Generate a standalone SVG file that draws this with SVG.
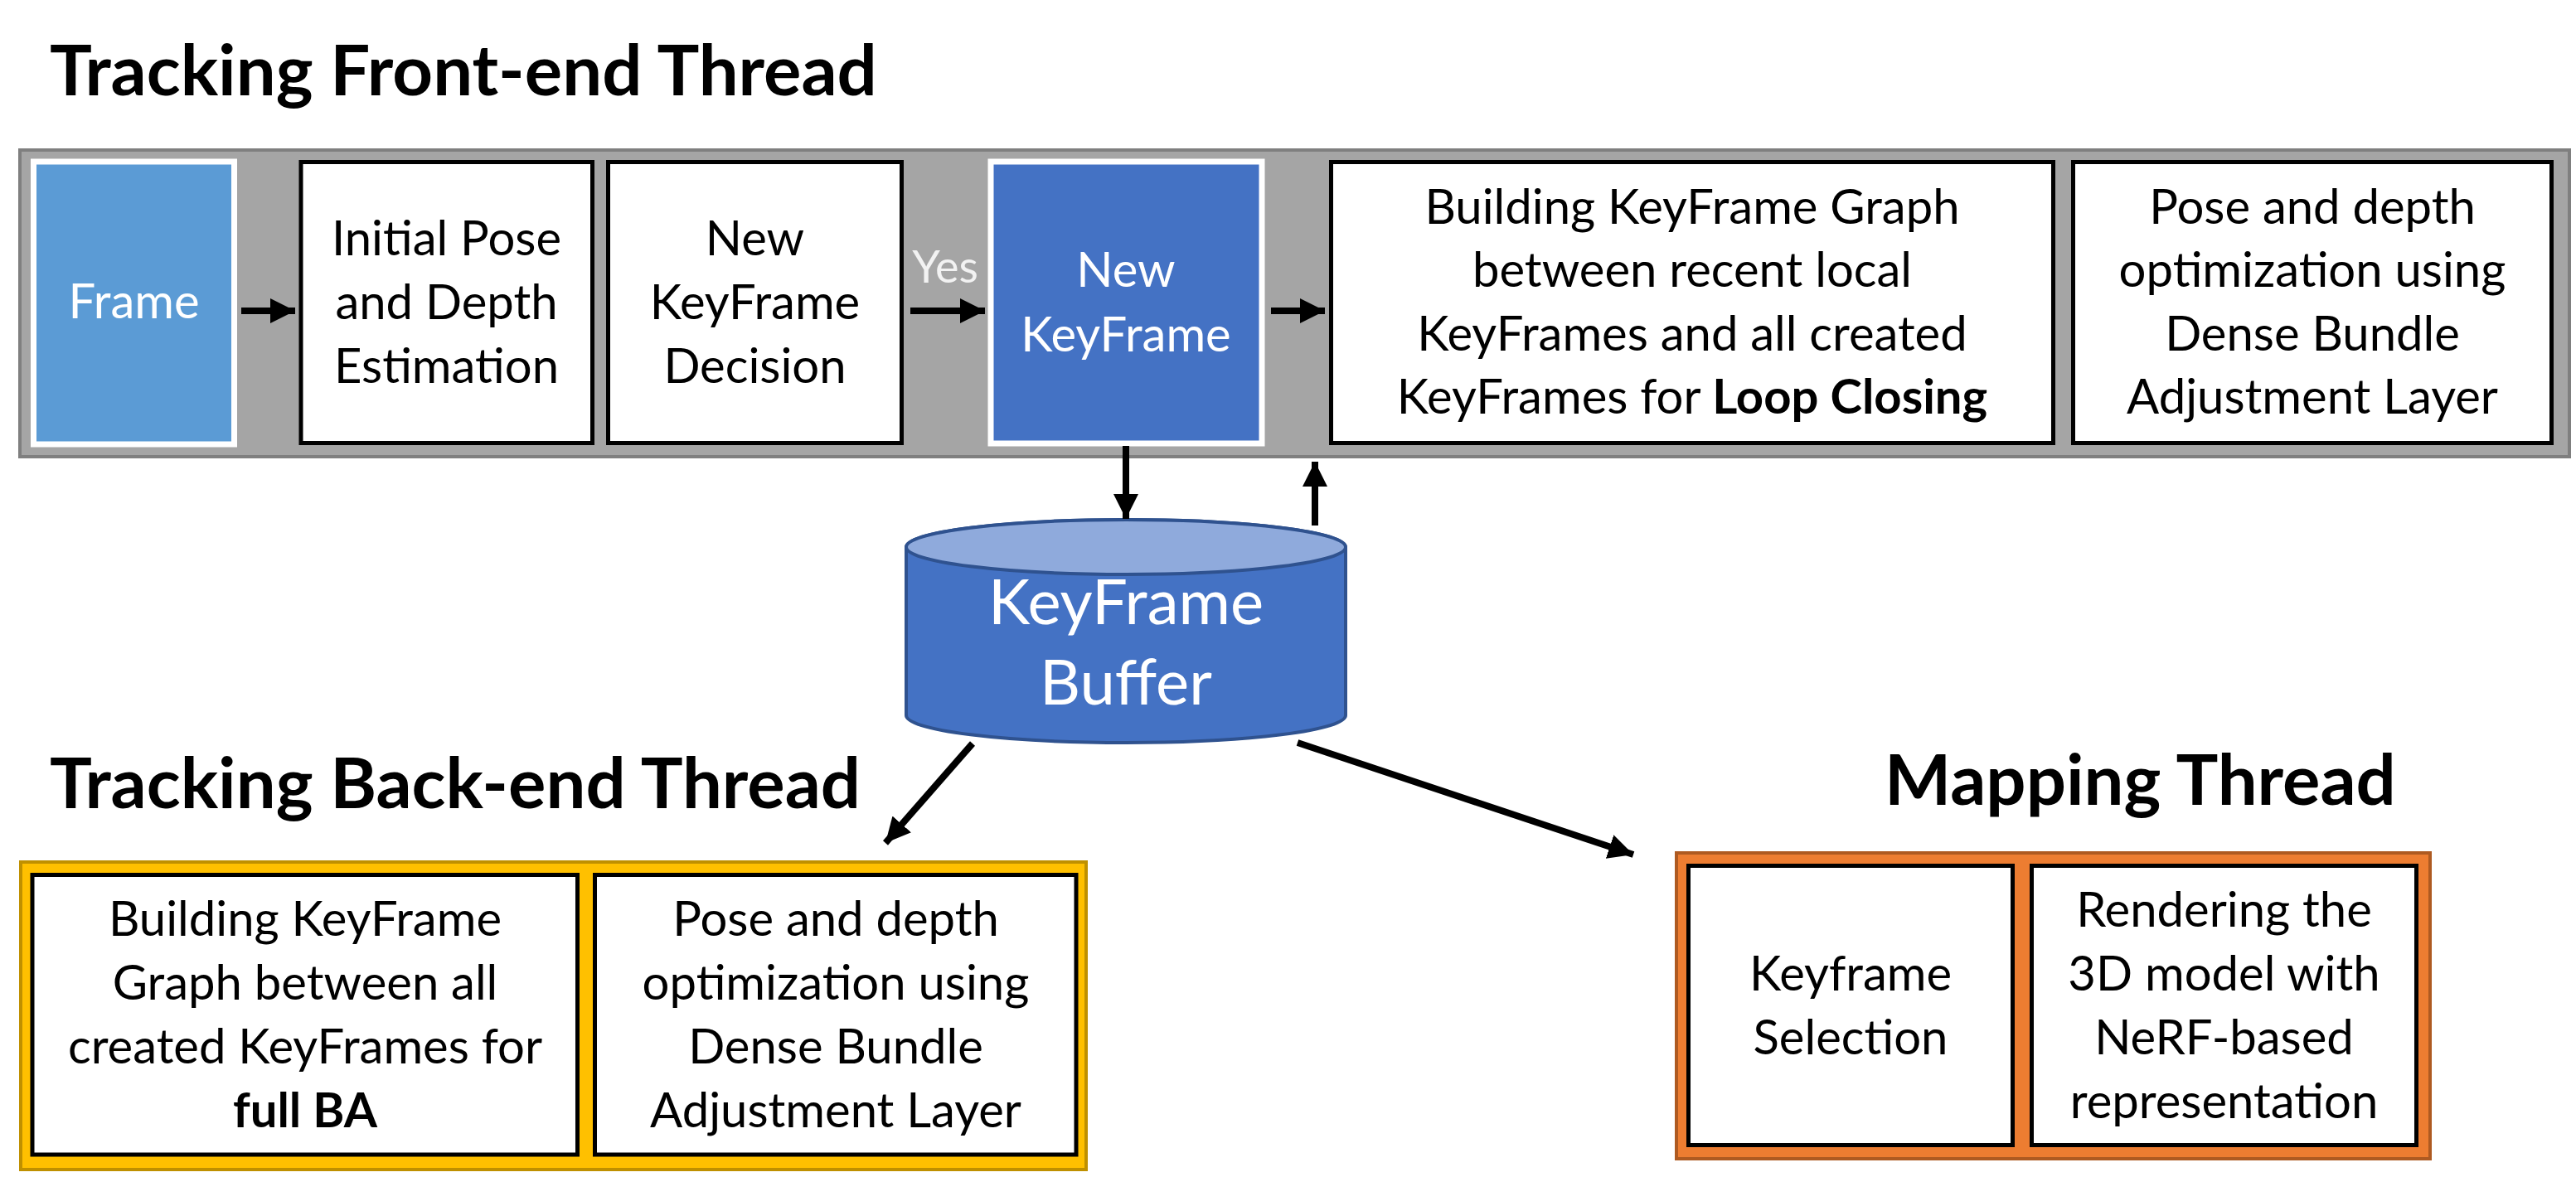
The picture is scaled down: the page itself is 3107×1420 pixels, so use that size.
<svg xmlns="http://www.w3.org/2000/svg" width="3107" height="1420" viewBox="0 0 3107 1420">
<style>
text{font-family:Lato,"Liberation Sans",sans-serif}
.title{font-weight:bold;font-size:85px;fill:#000}
.t{font-size:58px;fill:#000;text-anchor:middle}
.w{font-size:58px;fill:#fff;text-anchor:middle}
.cyl{font-size:76px;fill:#fff;text-anchor:middle}
.b{font-weight:bold}
.box{fill:#fff;stroke:#000;stroke-width:5}
.arrow{stroke:#000;stroke-width:8;fill:none;marker-end:url(#ah)}
</style>
<defs>
<marker id="ah" markerUnits="userSpaceOnUse" markerWidth="32" markerHeight="30" refX="30" refY="15" orient="auto" viewBox="0 0 32 30">
<path d="M0,0 L30,15 L0,30 Z" fill="#000"/>
</marker>
</defs>
<g id="titles">
<text class="title" x="60" y="115">Tracking Front-end Thread</text>
<text class="title" x="60" y="975">Tracking Back-end Thread</text>
<text class="title" x="2273" y="971">Mapping Thread</text>
</g>
<g id="frontend-container">
<rect x="24" y="181" width="3075" height="370" fill="#a5a5a5" stroke="#7f7f7f" stroke-width="4"/>
</g>
<g id="frame">
<rect x="40.5" y="195" width="242" height="341" fill="#5b9bd5" stroke="#fff" stroke-width="7"/>
<text class="w" x="161.5" y="384">Frame</text>
</g>
<g id="initial-pose">
<rect class="box" x="363" y="195.5" width="351.5" height="339"/>
<text class="t" x="538.5" y="308">Initial Pose</text>
<text class="t" x="538.5" y="385">and Depth</text>
<text class="t" x="538.5" y="462">Estimation</text>
</g>
<g id="keyframe-decision">
<rect class="box" x="733.5" y="195.5" width="354" height="339"/>
<text class="t" x="910.5" y="308">New</text>
<text class="t" x="910.5" y="385">KeyFrame</text>
<text class="t" x="910.5" y="462">Decision</text>
</g>
<g id="new-keyframe">
<rect x="1195" y="195" width="327" height="340" fill="#4472c4" stroke="#fff" stroke-width="7"/>
<text class="w" x="1358" y="346">New</text>
<text class="w" x="1358" y="424">KeyFrame</text>
</g>
<g id="building-graph">
<rect class="box" x="1605.5" y="195.5" width="871" height="339"/>
<text class="t" x="2041" y="270">Building KeyFrame Graph</text>
<text class="t" x="2041" y="346">between recent local</text>
<text class="t" x="2041" y="423">KeyFrames and all created</text>
<text class="t" x="2041" y="499">KeyFrames for <tspan class="b">Loop Closing</tspan></text>
</g>
<g id="pose-depth-front">
<rect class="box" x="2500.5" y="195.5" width="577" height="339"/>
<text class="t" x="2789" y="270">Pose and depth</text>
<text class="t" x="2789" y="346">optimization using</text>
<text class="t" x="2789" y="423">Dense Bundle</text>
<text class="t" x="2789" y="499">Adjustment Layer</text>
</g>
<g id="keyframe-buffer">
<path d="M1093,660 A265,33 0 0 1 1623,660 V863 A265,33 0 0 1 1093,863 Z" fill="#4472c4" stroke="#2f528f" stroke-width="4"/>
<ellipse cx="1358" cy="660" rx="265" ry="33" fill="#8faadc" stroke="#2f528f" stroke-width="4"/>
<text class="cyl" x="1358" y="753">KeyFrame</text>
<text class="cyl" x="1358" y="850">Buffer</text>
</g>
<g id="backend-container">
<rect x="25" y="1040" width="1285" height="371" fill="#ffc000" stroke="#bf9000" stroke-width="4"/>
</g>
<g id="building-graph-full">
<rect class="box" x="39" y="1055.5" width="657.5" height="337.5"/>
<text class="t" x="368" y="1128.5">Building KeyFrame</text>
<text class="t" x="368" y="1205.5">Graph between all</text>
<text class="t" x="368" y="1282.5">created KeyFrames for</text>
<text class="t b" x="368" y="1359.5">full BA</text>
</g>
<g id="pose-depth-back">
<rect class="box" x="717.5" y="1055.5" width="580.5" height="337.5"/>
<text class="t" x="1008" y="1128.5">Pose and depth</text>
<text class="t" x="1008" y="1205.5">optimization using</text>
<text class="t" x="1008" y="1282.5">Dense Bundle</text>
<text class="t" x="1008" y="1359.5">Adjustment Layer</text>
</g>
<g id="mapping-container">
<rect x="2022" y="1029" width="909" height="369" fill="#ed7d31" stroke="#ae5a21" stroke-width="4"/>
</g>
<g id="keyframe-selection">
<rect class="box" x="2036.5" y="1044.5" width="391" height="337"/>
<text class="t" x="2232" y="1194.5">Keyframe</text>
<text class="t" x="2232" y="1271.5">Selection</text>
</g>
<g id="rendering">
<rect class="box" x="2450.5" y="1044.5" width="464" height="337"/>
<text class="t" x="2682.5" y="1117.5">Rendering the</text>
<text class="t" x="2682.5" y="1194.5">3D model with</text>
<text class="t" x="2682.5" y="1271.5">NeRF-based</text>
<text class="t" x="2682.5" y="1348.5">representation</text>
</g>
<g id="connectors">
<line class="arrow" x1="291" y1="375" x2="356" y2="375"/>
<line class="arrow" x1="1098" y1="375" x2="1188" y2="375"/>
<text x="1140" y="341" font-size="54" fill="#f2f2f2" text-anchor="middle">Yes</text>
<line class="arrow" x1="1533" y1="375" x2="1598" y2="375"/>
<line class="arrow" x1="1358" y1="538" x2="1358" y2="626"/>
<line class="arrow" x1="1586" y1="634" x2="1586" y2="557"/>
<line class="arrow" x1="1173" y1="897" x2="1068" y2="1017"/>
<line class="arrow" x1="1565" y1="896" x2="1970" y2="1031"/>
</g>
</svg>
